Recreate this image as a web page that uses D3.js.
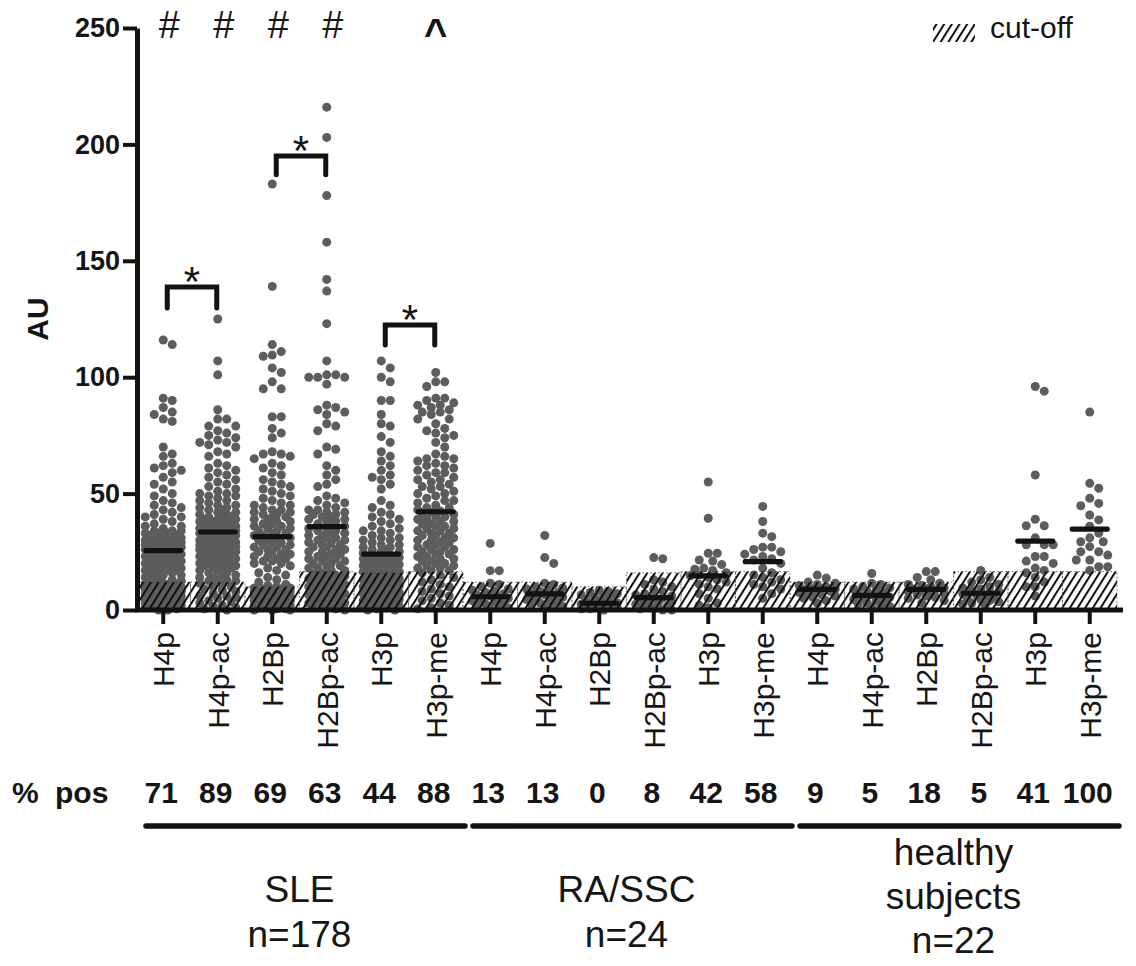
<!DOCTYPE html>
<html>
<head>
<meta charset="utf-8">
<script src="https://cdn.jsdelivr.net/npm/d3@7"></script>
<style>
  body { margin: 0; background: #fff; }
  text { font-family: "Liberation Sans", Arial, sans-serif; fill: #151515; }
</style>
</head>
<body>
<div id="chart"></div>
<script>
// ---- data ----
const categories = ["H4p", "H4p-ac", "H2Bp", "H2Bp-ac", "H3p", "H3p-me",
                    "H4p", "H4p-ac", "H2Bp", "H2Bp-ac", "H3p", "H3p-me",
                    "H4p", "H4p-ac", "H2Bp", "H2Bp-ac", "H3p", "H3p-me"];
const pctPos = [71, 89, 69, 63, 44, 88, 13, 13, 0, 8, 42, 58, 9, 5, 18, 5, 41, 100];
const medians = [25.5, 33.5, 31.5, 35.8, 24, 42.2, 5.7, 6.9, 2.9, 5.3, 14.7, 20.8, 8.9, 6.3, 8.9, 7.2, 29.6, 34.7];
const cutoffs = [12, 12, 10, 16.5, 16, 16.5, 12, 12, 10, 16, 16.5, 16.5, 12, 12, 12, 16.5, 16.5, 16.5];
const yTicks = [0, 50, 100, 150, 200, 250];

const groupLabels = [["SLE", "n=178"], ["RA/SSC", "n=24"], ["healthy", "subjects", "n=22"]];
const groupCols = [[0, 5], [6, 11], [12, 17]];

const topMarks = [{col: 0, sym: "#"}, {col: 1, sym: "#"}, {col: 2, sym: "#"}, {col: 3, sym: "#"}, {col: 5, sym: "^"}];
const brackets = [{a: 0, b: 1, top: 138.7, drop: 9}, {a: 2, b: 3, top: 195, drop: 8}, {a: 4, b: 5, top: 122.4, drop: 8.6}];

const sleH4p = [116,114,91,90,87,85,84,82,81,70,67,66,63,62,61,60,59,57,55,54,52,50,49,47,46,45,44,43,42,41,40,40,39,38,37,36,36,35,34,34,34,33,33,33,32,32,32,31,31,31,30,30,30,30,29,29,29,29,28,28,28,28,27,27,27,27,27,26,26,26,26,26,25,25,25,24,24,24,23,23,23,22,22,22,21,21,21,20,20,20,19,19,19,18,18,18,17,17,17,16,16,16,15,15,14,14,13,13,12.5,12,11.5,11,11,10.5,10,10,9.5,9,9,8.5,8,8,7.5,7,7,6.5,6,6,5.5,5,5,4.5,4,4,3.5,3,3,2.5,2,2,1.5,1,1,0.5,0,11,10,9,8,7,6,5,4,3,2,1,0,11,9,7,5];
const sleH4pAc = [125,107,101,86,82,82,79,79,77,76,75,74,73,72,72,71,70,68,67,66,63,62,61,60,59,58,57,56,55,54,53,52,51,50,50,49,49,48,47,47,46,45,45,44,44,43,43,42,42,41,41,40,40,40,39,39,39,38,38,38,37,37,37,36,36,36,36,35,35,35,35,34,34,34,34,34,33,33,33,33,32,32,32,32,31,31,31,31,30,30,30,30,29,29,29,29,28,28,28,28,27,27,27,27,26,26,26,26,25,25,25,25,24,24,24,23,23,23,22,22,22,21,21,21,20,20,20,19,19,19,18,18,18,17,17,16,16,15,15,14,14,13,13,12.5,12.5,11.5,11,10,9,8.5,8,7,6,5.5,5,4,3.5,3,2,1.5,1,0.5,0,10,6];
const sleH2Bp = [183,139,114,111,109.5,109,104,102,98,95,95,83,83,78,76,74,68,67,67,66,65,63,62,61,59,58,56,55,54,53,52,51,50,49,48,47,46,45,45,44,43,43,42,42,41,41,40,40,39,39,38,38,37,37,36,36,35,35,34,34,33,33,32,32,31,31,30,30,29,29,28,28,27,27,26,26,25,25,24,24,23,23,22,22,21,21,20,20,19,18,17,16,15,14,13,12,11,10.5,10,9.5,9.5,9,9,8.5,8.5,8,8,7.5,7.5,7,7,6.5,6.5,6,6,5.5,5.5,5,5,4.5,4.5,4,4,3.5,3.5,3,3,2.5,2.5,2,2,1.5,1.5,1,1,0.5,0.5,0,0,9,8,7,6,5,4,3,2,1,0,8,6,4,2];
const sleH2BpAc = [216,203,178,158,142,137,123,107,101,101,100,100,100,97,88,87,86,85,84,80,79,77,70,69,67,62,60,58,56,54,53,49,48,47,46,45,44,43,43,42,42,41,41,40,40,39,39,38,38,37,37,36,35,35,34,34,33,33,32,32,31,31,30,30,29,29,28,28,27,27,26,26,25,25,24,24,23,23,22,22,21,21,20,20,19,19,18,18,17,17,16,15.5,15,14.5,14,13.5,13,12.5,12,11.5,11,10.5,10,9.5,9,8.5,8,7.5,7,6.5,6,5.5,5,4.5,4,3.5,3,2.5,2,1.5,1,0.5,0,15,13,11,9,7,5,3,1];
const sleH3p = [107,104,100,98,90,90,84,80,79,74.5,72,68,66,64,62,60,58,57,56,54,52,47,45,44,42,41,40,39,38,37,36,35,34,34,33,32,31,31,30,30,29,28,28,27,27,26,26,25,25,24.5,23.5,23,23,22.5,22,22,21.5,21,21,20.5,20,20,19.5,19,19,18.5,18,18,17.5,17,17,16.5,16.5,16,15.5,15,15,14.5,14,14,13.5,13,13,12.5,12,12,11.5,11,11,10.5,10,10,9.5,9,9,8.5,8,8,7.5,7,7,6.5,6,6,5.5,5,5,4.5,4,4,3.5,3,3,2.5,2,2,1.5,1,1,0.5,0,0];
const sleH3pMe = [102,98,98,96,91,91,90,89,88,88,87,86,85,85,84,82,82,80,78,77,76,75,74,72,70,67,66,65,65,64,63,62,62,61,60,59,59,58,57,56,56,55,54,53,53,52,51,50,50,49,48,47,47,46,45,44,44,43,42.5,42,41,41,40,40,39,39,38,38,37,37,36,36,35,35,34,34,33,33,32,32,31,31,30,30,29,29,28,28,27,27,26,26,25,25,24,24,23,23,22,22,21,21,20,20,19,19,18,18,17,17,16,15,14,13,12,11,10,9,8,7,6,5,4,3,2,1,0.5];

const raH4p = [28.6,16.9,16.9,11.5,11,10,9,8.5,8,7.5,7,6.5,6,5.5,5,4.5,4,3.5,3,2.5,2,1.5,1,0.5];
const raH4pAc = [32,22.5,20,11.5,11,10,9.5,9,8.5,8,7.5,7,6.5,6,5.5,5,4.5,4,3.5,3,2.5,2,1.5,1];
const raH2Bp = [8.5,8,7.5,7,6.5,6,5.5,5,4.5,4,3.5,3,3,2.5,2.5,2,2,1.5,1.5,1,1,0.5,0.5,0];
const raH2BpAc = [22.5,22,13,12,11,10,9,8,7,6.5,6,5.5,5,4.5,4,3.5,3,2.5,2,1.5,1,0.5,0,0];
const raH3p = [55,39.4,24.4,24.4,21.5,21,19.5,18,17.5,17,16,15,14.7,14,13,12,11,10,9,7,5,3,2,1];
const raH3pMe = [44.5,38,33,31.5,27,27,26,25,24,23,22,21.5,20,18,16,15,14,13,12,11,10,9,7,5];

const hsH4p = [15,13.7,12,11.5,11,10.5,10,9.5,9,9,9,8.5,8.5,8,7.5,7,6.5,6,5.5,5,4,3];
const hsH4pAc = [15.7,11.5,11,10,9.5,9,8.5,8,7.5,7,6.5,6,5.5,5,4.5,4,3.5,3,2.5,2,1.5,1];
const hsH2Bp = [16.5,16.5,14,13,11.5,11,10.5,10,9.5,9,9,8.5,8.5,8,7.5,7,6.5,6,5.5,5,4,3];
const hsH2BpAc = [17,14,13,12,11,10,9.5,9,8.5,8,7.5,7,6.5,6,5.5,5,4.5,4,3.5,3,2.5,2];
const hsH3p = [96,94,58,39,36.2,36.2,31,28,28,28,23,23,21,20,18,17,16,14,12,10,10,6];
const hsH3pMe = [85,54.4,52.3,48,45.8,44.8,40.8,38.7,36,33,31,29.3,29.3,27.2,25,25,23.6,21.5,21.5,18.6,18.6,17];

const columns = [sleH4p, sleH4pAc, sleH2Bp, sleH2BpAc, sleH3p, sleH3pMe,
                 raH4p, raH4pAc, raH2Bp, raH2BpAc, raH3p, raH3pMe,
                 hsH4p, hsH4pAc, hsH2Bp, hsH2BpAc, hsH3p, hsH3pMe];

// ---- frame ----
const WIDTH = 1136, HEIGHT = 966;
const DOT_R = 4.5;
const INK = "#121212";

const svg = d3.select("#chart").append("svg")
  .attr("width", WIDTH).attr("height", HEIGHT);

const defs = svg.append("defs");
const pat = defs.append("pattern")
  .attr("id", "hatch")
  .attr("patternUnits", "userSpaceOnUse")
  .attr("width", 6.5).attr("height", 10)
  .attr("patternTransform", "rotate(32)");
pat.append("line")
  .attr("x1", 1).attr("y1", 0).attr("x2", 1).attr("y2", 10)
  .attr("stroke", "#0d0d0d").attr("stroke-width", 2);

const x = d3.scaleBand().domain(d3.range(categories.length)).range([136, 1117]);
const y = d3.scaleLinear().domain([0, 250]).range([610, 28]);
const cx = i => x(i) + x.bandwidth() / 2;

// column scatter: place each value at the nearest free horizontal slot
function swarm(values, c) {
  const d = 2 * DOT_R - 0.2;
  const offs = [0];
  for (let k = 1; k <= 4; k++) offs.push(k * DOT_R, -k * DOT_R);
  const placed = [];
  values.slice().sort((a, b) => b - a).forEach(v => {
    const py = y(v);
    let best = 0, bestScore = -Infinity;
    for (const o of offs) {
      let minD = Infinity;
      for (const p of placed) {
        if (Math.abs(p.y - py) < d) {
          const dd = Math.hypot(p.x - o, p.y - py);
          if (dd < minD) minD = dd;
        }
      }
      if (minD >= d) { best = o; break; }
      if (minD > bestScore) { bestScore = minD; best = o; }
    }
    placed.push({x: best, y: py});
  });
  return placed.map(p => ({x: c + p.x, y: p.y}));
}

// dots
const dots = svg.append("g");
columns.forEach((vals, i) => {
  dots.selectAll(null)
    .data(swarm(vals, cx(i)))
    .enter()
    .append("circle")
    .attr("cx", d => d.x)
    .attr("cy", d => d.y)
    .attr("r", DOT_R)
    .attr("fill", "#5d5d5d");
});

// cut-off hatched areas
svg.append("g").selectAll("rect")
  .data(cutoffs)
  .enter()
  .append("rect")
  .attr("x", (d, i) => x(i))
  .attr("y", d => y(d))
  .attr("width", x.bandwidth())
  .attr("height", d => y(0) - y(d))
  .attr("fill", "url(#hatch)")
  .attr("stroke", "#444")
  .attr("stroke-width", 0.8)
  .attr("stroke-dasharray", "1.5,2.5");

// medians
svg.append("g").selectAll("rect")
  .data(medians)
  .enter()
  .append("rect")
  .attr("x", (d, i) => cx(i) - 20)
  .attr("y", d => y(d) - 2.6)
  .attr("width", 40)
  .attr("height", 5.2)
  .attr("rx", 2)
  .attr("fill", INK);

// axes
const yAxis = svg.append("g")
  .attr("transform", "translate(137,0)")
  .call(d3.axisLeft(y).tickValues(yTicks).tickSize(14).tickSizeOuter(0).tickPadding(3));
yAxis.select(".domain").attr("stroke", INK).attr("stroke-width", 5);
yAxis.selectAll(".tick line").attr("stroke", INK).attr("stroke-width", 4);
yAxis.selectAll(".tick text")
  .attr("font-size", 27).attr("font-weight", "bold")
  .attr("font-family", "Liberation Sans, Arial, sans-serif").attr("fill", INK);

const xAxis = svg.append("g")
  .attr("transform", "translate(0,610)")
  .call(d3.axisBottom(x).tickSize(14).tickSizeOuter(0).tickFormat(i => categories[i]));
xAxis.select(".domain")
  .attr("d", `M${x.range()[0] - 1},0H${x.range()[1] + 6}`)
  .attr("stroke", INK).attr("stroke-width", 5);
xAxis.selectAll(".tick line").attr("stroke", INK).attr("stroke-width", 4);
xAxis.selectAll(".tick text")
  .attr("transform", "rotate(-90)")
  .attr("text-anchor", "end")
  .attr("x", -22).attr("y", 0).attr("dy", "0.36em")
  .attr("font-size", 30)
  .attr("font-family", "Liberation Sans, Arial, sans-serif").attr("fill", INK);

svg.append("text")
  .attr("transform", "translate(37,319) rotate(-90)")
  .attr("text-anchor", "middle").attr("dy", "0.36em")
  .attr("font-size", 30).attr("font-weight", "bold")
  .text("AU");

// significance marks above the columns
svg.append("g").selectAll("text")
  .data(topMarks)
  .enter()
  .append("text")
  .attr("x", d => cx(d.col) + (d.sym === "#" ? 6 : 0))
  .attr("y", d => d.sym === "#" ? 38 : 47)
  .attr("text-anchor", "middle")
  .attr("font-size", d => d.sym === "#" ? 38 : 40)
  .attr("font-weight", d => d.sym === "#" ? "normal" : "bold")
  .text(d => d.sym);

const br = svg.append("g");
brackets.forEach(b => {
  const x1 = cx(b.a) + 4, x2 = cx(b.b) - 1;
  br.append("path")
    .attr("d", `M${x1},${y(b.top - b.drop)}V${y(b.top)}H${x2}V${y(b.top - b.drop)}`)
    .attr("fill", "none").attr("stroke", INK).attr("stroke-width", 5)
    .attr("stroke-linecap", "round");
  br.append("text")
    .attr("x", (x1 + x2) / 2)
    .attr("y", y(b.top) + 9)
    .attr("text-anchor", "middle")
    .attr("font-size", 42)
    .text("*");
});

// legend
svg.append("rect")
  .attr("x", 933).attr("y", 24).attr("width", 42).attr("height", 18)
  .attr("fill", "url(#hatch)");
svg.append("text")
  .attr("x", 990).attr("y", 38)
  .attr("font-size", 30)
  .text("cut-off");

// % positive row
const pos = svg.append("text")
  .attr("y", 803).attr("font-size", 30).attr("font-weight", "bold");
pos.append("tspan").attr("x", 12).text("%");
pos.append("tspan").attr("x", 55).text("pos");

svg.append("g").selectAll("text")
  .data(pctPos)
  .enter()
  .append("text")
  .attr("x", (d, i) => cx(i) - 2)
  .attr("y", 803)
  .attr("text-anchor", "middle")
  .attr("font-size", 30).attr("font-weight", "bold")
  .text(d => d);

// group lines and labels
groupCols.forEach((g, k) => {
  const gx1 = x(g[0]) + 10, gx2 = x(g[1]) + x.bandwidth() + 2;
  svg.append("line")
    .attr("x1", gx1).attr("x2", gx2)
    .attr("y1", 826).attr("y2", 826)
    .attr("stroke", INK).attr("stroke-width", 5.5)
    .attr("stroke-linecap", "round");
  const lines = groupLabels[k];
  const base = lines.length === 3 ? 865 : 902;
  const gap = lines.length === 3 ? 44 : 45;
  lines.forEach((t, j) => {
    svg.append("text")
      .attr("x", (x(g[0]) + x(g[1]) + x.bandwidth()) / 2)
      .attr("y", base + j * gap)
      .attr("text-anchor", "middle")
      .attr("font-size", 37)
      .text(t);
  });
});
</script>
</body>
</html>
